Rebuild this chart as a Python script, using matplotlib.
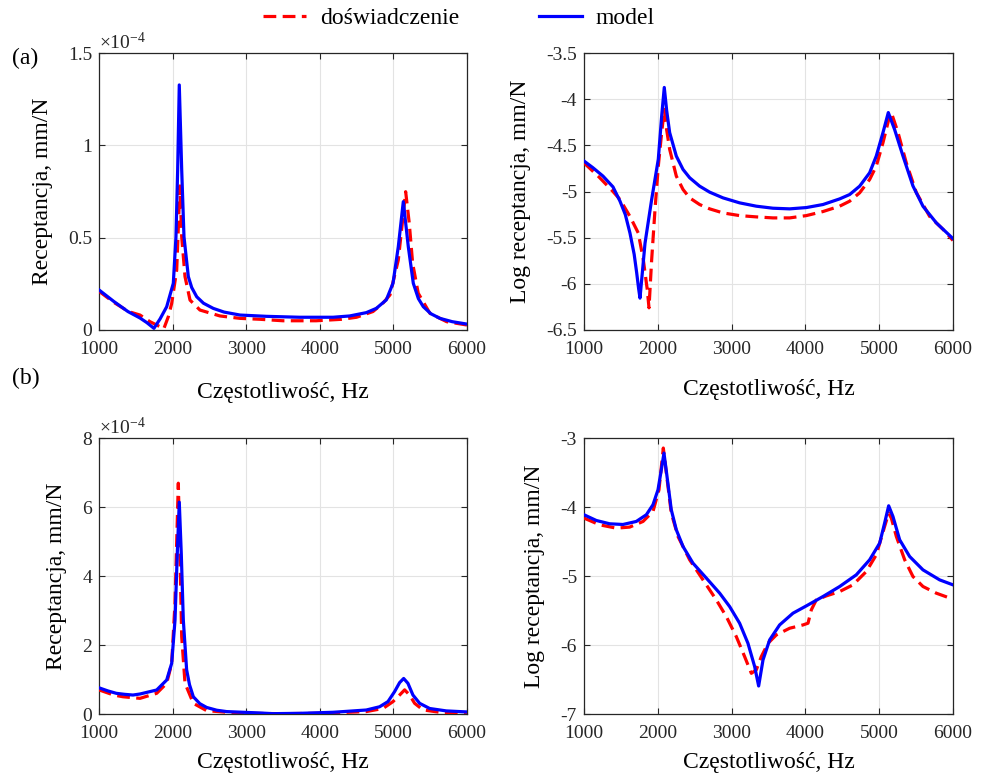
import matplotlib
matplotlib.use("Agg")
import matplotlib.pyplot as plt
from matplotlib.ticker import FuncFormatter


OUTPUT = "out.png"

# (a) receptance, linear scale, values in 1e-4 mm/N
FREQ_A_LIN_MODEL = [1000, 1200, 1393, 1557, 1650, 1747, 1830, 1920, 2010, 2046, 2069,
                    2091, 2124, 2155, 2214, 2260, 2328, 2420, 2553, 2700, 2916, 3274,
                    3726, 4180, 4406, 4632, 4768, 4904, 4995, 5067, 5135, 5203, 5271,
                    5340, 5407, 5510, 5633, 5800, 6000]
A_LIN_MODEL = [0.217, 0.155, 0.10, 0.065, 0.04, 0.009, 0.06, 0.126, 0.253, 0.505, 0.866,
               1.327, 0.866, 0.505, 0.289, 0.23, 0.18, 0.145, 0.117, 0.097, 0.081, 0.074,
               0.069, 0.069, 0.076, 0.094, 0.117, 0.163, 0.253, 0.451, 0.695, 0.451, 0.253,
               0.17, 0.126, 0.088, 0.063, 0.045, 0.032]
FREQ_A_LIN_EXP = [1000, 1200, 1400, 1557, 1693, 1829, 1880, 1942, 1988, 2056, 2087, 2100,
                  2124, 2169, 2237, 2372, 2644, 2916, 3188, 3500, 3950, 4300, 4500, 4723,
                  4857, 4954, 5067, 5126, 5167, 5216, 5262, 5338, 5497, 5724, 6000]
A_LIN_EXP = [0.21, 0.15, 0.10, 0.081, 0.045, 0.018, 0.006, 0.072, 0.144, 0.325, 0.65, 0.78,
             0.505, 0.289, 0.162, 0.108, 0.076, 0.063, 0.058, 0.05, 0.05, 0.058, 0.069, 0.10,
             0.145, 0.19, 0.379, 0.596, 0.749, 0.578, 0.361, 0.199, 0.09, 0.045, 0.027]

# (a) log10 receptance
FREQ_A_LOG_MODEL = [1000, 1122, 1257, 1393, 1488, 1560, 1623, 1680, 1714, 1740, 1759, 1827,
                    1917, 2007, 2053, 2088, 2120, 2161, 2251, 2342, 2432, 2567, 2703, 2884,
                    3109, 3335, 3561, 3787, 4013, 4239, 4465, 4600, 4736, 4871, 4961, 5052,
                    5124, 5210, 5323, 5458, 5594, 5775, 6000]
A_LOG_MODEL = [-4.67, -4.743, -4.833, -4.95, -5.105, -5.25, -5.45, -5.68, -5.88, -6.05, -6.155,
               -5.56, -5.087, -4.65, -4.18, -3.873, -4.12, -4.362, -4.616, -4.761, -4.851,
               -4.942, -5.007, -5.069, -5.123, -5.159, -5.181, -5.188, -5.174, -5.141, -5.08,
               -5.033, -4.942, -4.797, -4.616, -4.362, -4.145, -4.33, -4.616, -4.94, -5.16,
               -5.34, -5.51]
FREQ_A_LOG_EXP = [1000, 1200, 1393, 1488, 1623, 1736, 1804, 1858, 1881, 1917, 1962, 2007,
                  2053, 2088, 2120, 2161, 2251, 2342, 2432, 2567, 2703, 2884, 3109, 3335,
                  3561, 3787, 4013, 4239, 4465, 4600, 4736, 4871, 4961, 5052, 5142, 5165,
                  5255, 5368, 5503, 5684, 5865, 6000]
A_LOG_EXP = [-4.69, -4.84, -5.0, -5.087, -5.27, -5.45, -5.74, -6.065, -6.26, -5.74, -5.2,
             -4.725, -4.36, -4.11, -4.33, -4.543, -4.833, -4.978, -5.069, -5.141, -5.188,
             -5.232, -5.261, -5.275, -5.286, -5.286, -5.261, -5.217, -5.159, -5.105, -5.014,
             -4.87, -4.725, -4.471, -4.181, -4.145, -4.36, -4.69, -5.01, -5.27, -5.41, -5.53]

# (b) receptance, linear scale, values in 1e-4 mm/N
FREQ_B_LIN_MODEL = [1000, 1120, 1235, 1350, 1462, 1557, 1784, 1920, 1988, 2033, 2064, 2091,
                    2118, 2146, 2191, 2230, 2282, 2370, 2463, 2600, 2735, 3188, 3364, 3726,
                    4180, 4632, 4813, 4927, 5017, 5085, 5140, 5198, 5266, 5357, 5493, 5719,
                    6000]
B_LIN_MODEL = [0.76, 0.67, 0.6, 0.57, 0.55, 0.58, 0.696, 0.986, 1.47, 2.72, 4.66, 6.14,
               4.66, 2.72, 1.28, 0.85, 0.50, 0.30, 0.19, 0.11, 0.07, 0.03, 0.01, 0.02,
               0.05, 0.116, 0.21, 0.36, 0.65, 0.91, 1.03, 0.89, 0.55, 0.31, 0.16, 0.09,
               0.06]
FREQ_B_LIN_EXP = [1000, 1200, 1326, 1557, 1784, 1920, 1988, 2033, 2078, 2100, 2124, 2169,
                  2282, 2463, 2916, 3500, 4000, 4630, 4859, 4995, 5085, 5153, 5221, 5289,
                  5402, 5629, 6000]
B_LIN_EXP = [0.7, 0.55, 0.5, 0.454, 0.6, 0.89, 1.47, 3.21, 6.69, 4.66, 2.24, 0.89,
             0.31, 0.097, 0.02, 0.01, 0.02, 0.07, 0.16, 0.36, 0.55, 0.7, 0.55, 0.31,
             0.12, 0.05, 0.02]

# (b) log10 receptance
FREQ_B_LOG_MODEL = [1000, 1167, 1348, 1528, 1709, 1845, 1935, 2003, 2048, 2084, 2125, 2183,
                    2251, 2342, 2477, 2658, 2839, 2974, 3109, 3222, 3313, 3367, 3426, 3516,
                    3651, 3832, 4013, 4239, 4465, 4690, 4871, 5007, 5074, 5129, 5187, 5278,
                    5413, 5594, 5820, 6000]
B_LOG_MODEL = [-4.112, -4.195, -4.243, -4.253, -4.209, -4.112, -3.967, -3.75, -3.46, -3.218,
               -3.556, -4.04, -4.33, -4.572, -4.814, -5.03, -5.249, -5.443, -5.684, -5.975,
               -6.313, -6.594, -6.216, -5.926, -5.709, -5.539, -5.433, -5.297, -5.152, -4.983,
               -4.765, -4.524, -4.233, -3.982, -4.137, -4.475, -4.717, -4.911, -5.056, -5.128]
FREQ_B_LOG_EXP = [1000, 1212, 1438, 1619, 1800, 1935, 2016, 2075, 2116, 2183, 2274, 2432,
                  2613, 2793, 2929, 3064, 3177, 3268, 3335, 3403, 3494, 3606, 3787, 3968,
                  4036, 4081, 4148, 4284, 4465, 4645, 4826, 4961, 5074, 5129, 5165, 5233,
                  5346, 5458, 5594, 5775, 6000]
B_LOG_EXP = [-4.16, -4.258, -4.306, -4.291, -4.209, -4.064, -3.75, -3.145, -3.508, -4.088,
             -4.427, -4.765, -5.056, -5.346, -5.588, -5.878, -6.168, -6.41, -6.36, -6.168,
             -5.975, -5.854, -5.757, -5.709, -5.684, -5.49, -5.346, -5.288, -5.225, -5.128,
             -4.935, -4.693, -4.282, -4.088, -4.16, -4.427, -4.765, -5.007, -5.152, -5.249,
             -5.336]

X_TICKS = [1000, 2000, 3000, 4000, 5000, 6000]
XLABEL = "Częstotliwość, Hz"
YLABEL_LIN = "Receptancja, mm/N"
YLABEL_LOG = "Log receptancja, mm/N"
LEGEND_LABELS = ["doświadczenie", "model"]

RED = "#ff0000"
BLUE = "#0000ff"
DARK = "#262626"
TICK_FS = 14
LABEL_FS = 17


def draw_panel(ax, f_exp, y_exp, f_mod, y_mod, ylims, yticks, ylabel, xlabelpad):
    ax.plot(f_exp, y_exp, color=RED, lw=2.3, ls=(0, (4, 2)), label=LEGEND_LABELS[0], zorder=3)
    ax.plot(f_mod, y_mod, color=BLUE, lw=2.3, label=LEGEND_LABELS[1], zorder=4)
    ax.set_xlim(1000, 6000)
    ax.set_ylim(ylims)
    ax.set_xticks(X_TICKS)
    ax.set_yticks(yticks)
    ax.yaxis.set_major_formatter(FuncFormatter(lambda v, _: f"{v:g}"))
    ax.grid(True, color="#e3e3e3", lw=0.8)
    ax.set_axisbelow(True)
    ax.tick_params(direction="in", top=True, right=True, length=4, width=0.8,
                   labelsize=TICK_FS, colors=DARK)
    ax.tick_params(axis="x", pad=8)
    ax.tick_params(axis="y", pad=5)
    for spine in ax.spines.values():
        spine.set_color(DARK)
        spine.set_linewidth(0.9)
    ax.set_xlabel(XLABEL, fontsize=LABEL_FS, labelpad=xlabelpad, color="black")
    ax.set_ylabel(ylabel, fontsize=LABEL_FS, labelpad=11, color="black")


def main():
    plt.rcParams.update({
        "font.family": ["Liberation Serif", "DejaVu Serif"],
        "mathtext.fontset": "custom",
        "mathtext.rm": "Liberation Serif",
        "mathtext.default": "regular",
        "axes.unicode_minus": False,
    })
    fig = plt.figure(figsize=(9.81, 7.75), dpi=100)

    ax_a_lin = fig.add_axes([0.1009, 0.5742, 0.3751, 0.3574])
    ax_a_log = fig.add_axes([0.5953, 0.5742, 0.3761, 0.3574])
    ax_b_lin = fig.add_axes([0.1009, 0.0787, 0.3751, 0.3561])
    ax_b_log = fig.add_axes([0.5953, 0.0787, 0.3761, 0.3561])

    draw_panel(ax_a_lin, FREQ_A_LIN_EXP, A_LIN_EXP, FREQ_A_LIN_MODEL, A_LIN_MODEL,
               (0, 1.5), [0, 0.5, 1, 1.5], YLABEL_LIN, 17)
    draw_panel(ax_a_log, FREQ_A_LOG_EXP, A_LOG_EXP, FREQ_A_LOG_MODEL, A_LOG_MODEL,
               (-6.5, -3.5), [-6.5, -6, -5.5, -5, -4.5, -4, -3.5], YLABEL_LOG, 15)
    draw_panel(ax_b_lin, FREQ_B_LIN_EXP, B_LIN_EXP, FREQ_B_LIN_MODEL, B_LIN_MODEL,
               (0, 8), [0, 2, 4, 6, 8], YLABEL_LIN, 7)
    draw_panel(ax_b_log, FREQ_B_LOG_EXP, B_LOG_EXP, FREQ_B_LOG_MODEL, B_LOG_MODEL,
               (-7, -3), [-7, -6, -5, -4, -3], YLABEL_LOG, 7)

    # MATLAB-like exponent label over the linear panels
    for ax in (ax_a_lin, ax_b_lin):
        ax.text(0.0, 1.0, r"$\times10^{-4}$", transform=ax.transAxes,
                fontsize=TICK_FS, color=DARK, ha="left", va="bottom")

    fig.text(0.012, 0.925, "(a)", fontsize=LABEL_FS, va="center")
    fig.text(0.012, 0.512, "(b)", fontsize=LABEL_FS, va="center")

    handles, labels = ax_a_lin.get_legend_handles_labels()
    fig.legend(handles, labels, loc="center", bbox_to_anchor=(0.468, 0.976), ncol=2,
               frameon=False, fontsize=LABEL_FS, handlelength=1.8, handletextpad=0.6,
               columnspacing=3.4)

    fig.savefig(OUTPUT, dpi=100)


if __name__ == "__main__":
    main()
